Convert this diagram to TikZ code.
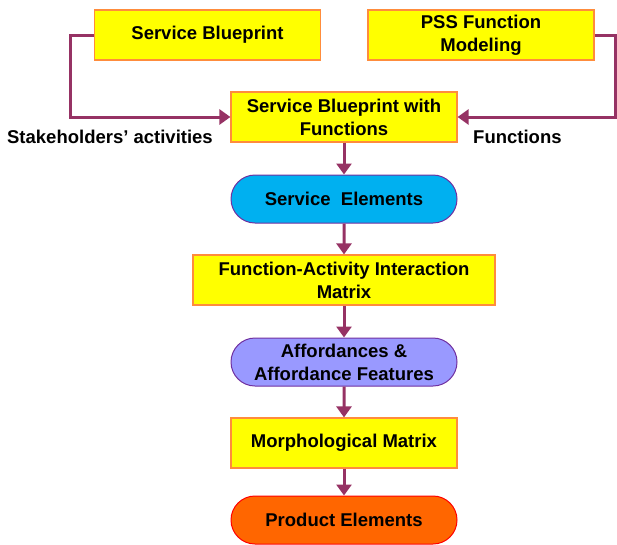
\documentclass[tikz,border=0pt]{standalone}
\usepackage{fontspec}
\setmainfont{Liberation Sans}
\usetikzlibrary{arrows.meta,positioning,shapes.misc}
\definecolor{pssYellow}{RGB}{255,255,0}
\definecolor{pssOrange}{RGB}{255,140,60}
\definecolor{pssCyan}{RGB}{0,176,240}
\definecolor{pssLilac}{RGB}{153,153,255}
\definecolor{pssRed}{RGB}{255,102,0}
\definecolor{pssPurple}{RGB}{112,48,160}
\definecolor{pssWine}{RGB}{150,50,100}

\begin{document}
\begin{tikzpicture}[x=1pt, y=1pt,
    box/.style={rectangle, draw=pssOrange, fill=pssYellow, line width=1.2pt,
                minimum width=226pt, minimum height=50pt, inner sep=0pt,
                align=center, font=\fontsize{18.5}{23}\selectfont\bfseries},
    pill/.style={rounded rectangle, draw=pssPurple, line width=1pt,
                 minimum width=226pt, minimum height=48pt, inner sep=0pt,
                 align=center, font=\fontsize{18.5}{23}\selectfont\bfseries},
    lbl/.style={font=\fontsize{18.5}{23}\selectfont\bfseries, inner sep=0pt},
    arr/.style={-{Triangle[length=11pt, width=15pt]}, line width=3pt, draw=pssWine}
  ]
  \useasboundingbox (0,0) rectangle (617,-544);

  % Inputs
  \node[box] (sb)  at (207.5,-35) {Service Blueprint};
  \node[box] (pss) at (481,-35)   {PSS Function\\Modeling};
  \node[box] (sbf) at (344,-117)  {Service Blueprint with\\Functions};
  \coordinate (lbend) at (70,-35);
  \coordinate (rbend) at (615.5,-35);
  \draw[arr] (sb.west) -- (lbend) |- (sbf.west);
  \draw[arr] (pss.east) -- (rbend) |- (sbf.east);
  \node[lbl, anchor=east] (stk) at (213,-137) {Stakeholders’ activities};
  \node[lbl, anchor=west] (fnc) at (473,-137) {Functions};

  % Main chain
  \node[pill, fill=pssCyan]  (se)  at (344,-199) {Service\ \ Elements};
  \node[box, minimum width=302pt] (fam) at (344,-280) {Function-Activity Interaction\\Matrix};
  \node[pill, fill=pssLilac] (aff) at (344,-362) {Affordances \&\\Affordance Features};
  \node[box] (mm)  at (344,-443) {Morphological Matrix};
  \node[pill, fill=pssRed, draw=red] (pe) at (344,-520) {Product Elements};

  \draw[arr] (sbf) -- (se);
  \draw[arr] (se)  -- (fam);
  \draw[arr] (fam) -- (aff);
  \draw[arr] (aff) -- (mm);
  \draw[arr] (mm)  -- (pe);
\end{tikzpicture}
\end{document}
